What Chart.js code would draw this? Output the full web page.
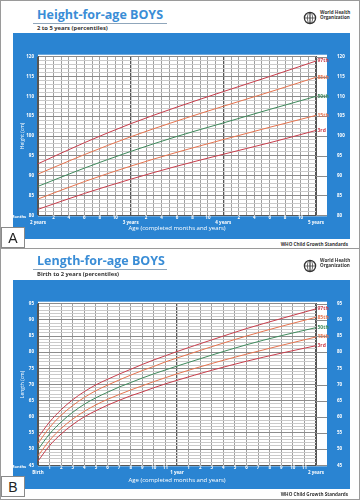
<!DOCTYPE html>
<html>
<head>
<meta charset="utf-8">
<script src="https://cdn.jsdelivr.net/npm/chart.js@4.4.1/dist/chart.umd.min.js"></script>
<style>
  html, body { margin: 0; padding: 0; background: #fff; }
  #page { position: relative; width: 360px; height: 500px; overflow: hidden; font-family: "Open Sans", sans-serif; }
  .frame { position: absolute; left: 0; top: 0; width: 358px; height: 498px; border: 1px solid #9a9a9a; }
  .sep { position: absolute; left: 0; top: 248px; width: 360px; height: 1px; background: #9a9a9a; }
  .title { position: absolute; left: 37px; font-size: 12.5px; font-weight: 700; color: #3a8dd6; line-height: 13px; white-space: nowrap; }
  .rule { position: absolute; left: 33px; width: 134px; height: 1px; background: #8fa6bb; }
  .sub { position: absolute; left: 37px; font-size: 5.8px; font-weight: 700; color: #333; line-height: 7px; white-space: nowrap; }
  .who { position: absolute; left: 303px; width: 48px; height: 14px; }
  .who span { position: absolute; left: 17px; top: 2px; font-size: 4.6px; font-weight: 700; line-height: 5px; color: #333; white-space: nowrap; }
  .foot { position: absolute; right: 12px; font-size: 4.6px; font-weight: 700; color: #333; line-height: 6px; white-space: nowrap; }
  .tag { position: absolute; left: 1px; width: 24px; height: 21px; border: 1px solid #8a8a8a; background: #fff; font-family: "Liberation Sans", Arial, sans-serif; font-size: 14px; line-height: 21px; text-align: center; color: #222; box-sizing: border-box; }
  canvas { position: absolute; }
</style>
</head>
<body>
<div id="page">
  <div class="frame"></div>

  <!-- Panel A -->
  <div class="title" style="top:8px">Height-for-age BOYS</div>
  <div class="rule" style="top:23px"></div>
  <div class="sub" style="top:25px">2 to 5 years (percentiles)</div>
  <div class="who" style="top:8px">
    <svg width="15" height="14" viewBox="0 0 15 14"><circle cx="7" cy="7" r="5.6" fill="#fff" stroke="#333" stroke-width="1.3"/><ellipse cx="7" cy="7" rx="2.6" ry="5" fill="none" stroke="#333" stroke-width="0.7"/><line x1="1.5" y1="7" x2="12.5" y2="7" stroke="#333" stroke-width="0.7"/><line x1="7" y1="1" x2="7" y2="13" stroke="#333" stroke-width="1.1"/></svg>
    <span>World Health<br>Organization</span>
  </div>
  <canvas id="chartA" width="337" height="206" style="left:13px; top:33px"></canvas>
  <div class="foot" style="top:241px">WHO Child Growth Standards</div>
  <div class="tag" style="top:227px">A</div>

  <div class="sep"></div>

  <!-- Panel B -->
  <div class="title" style="top:254px">Length-for-age BOYS</div>
  <div class="rule" style="top:269px"></div>
  <div class="sub" style="top:271px">Birth to 2 years (percentiles)</div>
  <div class="who" style="top:256px">
    <svg width="15" height="14" viewBox="0 0 15 14"><circle cx="7" cy="7" r="5.6" fill="#fff" stroke="#333" stroke-width="1.3"/><ellipse cx="7" cy="7" rx="2.6" ry="5" fill="none" stroke="#333" stroke-width="0.7"/><line x1="1.5" y1="7" x2="12.5" y2="7" stroke="#333" stroke-width="0.7"/><line x1="7" y1="1" x2="7" y2="13" stroke="#333" stroke-width="1.1"/></svg>
    <span>World Health<br>Organization</span>
  </div>
  <canvas id="chartB" width="337" height="209" style="left:13px; top:280px"></canvas>
  <div class="foot" style="top:491px">WHO Child Growth Standards</div>
  <div class="tag" style="top:476px">B</div>
</div>

<script>
Chart.defaults.font.family = '"Open Sans", sans-serif';

/* ── Data: height-for-age, boys 2 to 5 years (months) ───────── */
const ageA = [24, 30, 36, 42, 48, 54, 60];
const p97A = [93.0, 98.3, 103.1, 107.3, 111.2, 115.0, 118.9];
const p85A = [90.4, 95.3, 99.8, 103.8, 107.5, 111.1, 114.8];
const p50A = [87.3, 91.9, 96.1, 99.9, 103.3, 106.7, 110.0];
const p15A = [84.1, 88.5, 92.4, 95.9, 99.1, 102.2, 105.2];
const p3A  = [81.5, 85.5, 89.1, 92.4, 95.4, 98.3, 101.4];

/* ── Data: length-for-age, boys birth to 2 years (months) ───── */
const ageB = [0, 1, 2, 3, 4, 5, 6, 7, 8, 9, 10, 11, 12, 15, 18, 21, 24];
const p97B = [53.6, 58.4, 62.2, 65.3, 67.8, 69.9, 71.6, 73.2, 74.7, 76.2, 77.6, 78.9, 80.2, 83.8, 87.3, 90.4, 93.4];
const p85B = [51.8, 56.7, 60.5, 63.5, 66.0, 68.1, 69.8, 71.4, 72.9, 74.3, 75.6, 77.0, 78.2, 81.7, 85.0, 88.0, 90.8];
const p50B = [49.9, 54.7, 58.4, 61.4, 63.9, 65.9, 67.6, 69.2, 70.6, 72.0, 73.3, 74.5, 75.7, 79.1, 82.3, 85.1, 87.6];
const p15B = [47.9, 52.7, 56.4, 59.3, 61.7, 63.7, 65.4, 66.9, 68.3, 69.6, 70.9, 72.1, 73.3, 76.5, 79.4, 82.1, 84.7];
const p3B  = [46.3, 51.1, 54.7, 57.6, 60.0, 61.9, 63.6, 65.1, 66.5, 67.7, 69.0, 70.2, 71.3, 74.4, 77.2, 79.7, 82.0];

const pctNames = ['97th', '85th', '50th', '15th', '3rd'];
const pctColors = ['#c83e4c', '#e6744f', '#3f8a5c', '#e6744f', '#c83e4c'];

const yearsA = { 24: '2 years', 36: '3 years', 48: '4 years', 60: '5 years' };
const yearsB = { 0: 'Birth', 12: '1 year', 24: '2 years' };

const BLUE = '#2a84d2';

function series(ages, vals) {
    return ages.map((a, i) => ({ x: a, y: vals[i] }));
}

// blue board, white plotting area, percentile labels
const panelPlugin = {
    id: 'panel',
    beforeDraw(chart) {
        const { ctx, chartArea: a, width, height } = chart;
        ctx.save();
        ctx.fillStyle = BLUE;
        ctx.fillRect(0, 0, width, height);
        ctx.fillStyle = '#fff';
        ctx.fillRect(a.left, a.top - 2, a.right - a.left + 11, a.bottom - a.top + 3);
        ctx.restore();
    },
    beforeDatasetsDraw(chart) {
        // 5 cm lines carry on under the percentile labels
        const { ctx, chartArea: a, scales } = chart;
        ctx.save();
        ctx.strokeStyle = '#8c8c8c';
        ctx.lineWidth = 1;
        scales.y.ticks.forEach(t => {
            if (t.value % 5 !== 0) return;
            const py = Math.round(scales.y.getPixelForValue(t.value)) + 0.5;
            ctx.beginPath();
            ctx.moveTo(a.right, py);
            ctx.lineTo(a.right + 11, py);
            ctx.stroke();
        });
        ctx.restore();
    },
    afterDatasetsDraw(chart) {
        const { ctx, chartArea: a } = chart;
        ctx.save();
        ctx.font = 'bold 5px "Open Sans", sans-serif';
        ctx.textBaseline = 'middle';
        chart.data.datasets.forEach((ds, i) => {
            const pts = chart.getDatasetMeta(i).data;
            const last = pts[pts.length - 1];
            ctx.fillStyle = ds.borderColor;
            ctx.fillText(ds.label, last.x + 1.5, last.y);
        });
        ctx.fillStyle = '#fff';
        ctx.font = 'bold 4px "Open Sans", sans-serif';
        ctx.textAlign = 'right';
        ctx.fillText('Months', a.left - 12, a.bottom + 2);
        ctx.restore();
    },
};

function makeChart(id, cfg) {
    const sets = [cfg.p97, cfg.p85, cfg.p50, cfg.p15, cfg.p3];
    const yTicks = {
        stepSize: 1, autoSkip: false, color: '#fff',
        font: { size: 4.5, weight: 'bold' },
        callback: v => (v % 5 === 0 ? String(v) : ''),
    };
    return new Chart(document.getElementById(id), {
        type: 'line',
        data: {
            datasets: sets.map((vals, i) => ({
                label: pctNames[i],
                data: series(cfg.ages, vals),
                borderColor: pctColors[i],
                borderWidth: 1,
                pointRadius: 0,
                cubicInterpolationMode: 'monotone',
                fill: false,
            })),
        },
        options: {
            responsive: false,
            animation: false,
            layout: { padding: { top: cfg.top, left: 0, right: 0, bottom: 0 } },
            plugins: { legend: { display: false }, tooltip: { enabled: false } },
            scales: {
                x: {
                    type: 'linear', min: cfg.xMin, max: cfg.xMax,
                    afterFit: s => { s.height = cfg.xH; },
                    grid: {
                        drawTicks: false,
                        color: c => (c.tick && c.tick.value % 12 === 0 ? '#555' : '#a0a0a0'),
                        lineWidth: c => (c.tick && c.tick.value % 12 === 0 ? 1.3 : 1),
                    },
                    border: { color: '#555' },
                    ticks: {
                        stepSize: 1, autoSkip: false, maxRotation: 0, padding: 0, color: '#fff',
                        font: { size: 4.5, weight: 'bold', lineHeight: 1.1 },
                        callback: v => (cfg.years[v] ? ['', cfg.years[v]] : (v % cfg.every === 0 ? String(v % 12) : '')),
                    },
                    title: {
                        display: true, text: 'Age (completed months and years)', color: '#fff',
                        font: { size: 6 }, padding: { top: 0, bottom: cfg.titlePad },
                    },
                },
                y: {
                    min: cfg.yMin, max: cfg.yMax,
                    afterFit: s => { s.width = 25; },
                    grid: {
                        drawTicks: false,
                        color: c => (c.tick && c.tick.value % 5 === 0 ? '#8c8c8c' : '#cacaca'),
                    },
                    border: { color: '#555' },
                    ticks: Object.assign({ padding: 4 }, yTicks),
                    title: {
                        display: true, text: cfg.yTitle, color: '#fff',
                        font: { size: 5 }, padding: { top: 7, bottom: 0 },
                    },
                },
                y2: {
                    position: 'right', min: cfg.yMin, max: cfg.yMax,
                    afterFit: s => { s.width = 34; },
                    grid: { display: false, drawTicks: false },
                    border: { color: '#555' },
                    ticks: Object.assign({ padding: 21 }, yTicks),
                },
            },
        },
        plugins: [panelPlugin],
    });
}

makeChart('chartA', {
    ages: ageA, p97: p97A, p85: p85A, p50: p50A, p15: p15A, p3: p3A,
    xMin: 24, xMax: 60, every: 2, years: yearsA,
    yMin: 80, yMax: 120, yTitle: 'Height (cm)',
    top: 9, xH: 18, titlePad: 1.5,
});

makeChart('chartB', {
    ages: ageB, p97: p97B, p85: p85B, p50: p50B, p15: p15B, p3: p3B,
    xMin: 0, xMax: 24, every: 1, years: yearsB,
    yMin: 45, yMax: 95, yTitle: 'Length (cm)',
    top: 8, xH: 21, titlePad: 2.5,
});
</script>
</body>
</html>
